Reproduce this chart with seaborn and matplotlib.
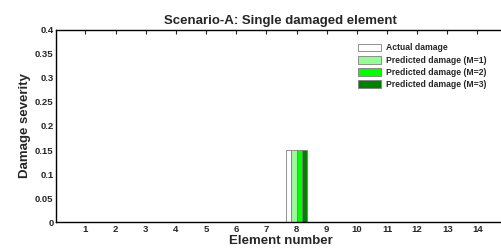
import numpy as np
import pandas as pd
import matplotlib
matplotlib.use("Agg")
import matplotlib.pyplot as plt
import seaborn as sns

# data
elements = [1, 2, 3, 4, 5, 6, 7, 8, 9, 10, 11, 12, 13, 14]
actual = [0, 0, 0, 0, 0, 0, 0, 0.15, 0, 0, 0, 0, 0, 0]
pred_m1 = [0, 0.001, 0, 0.001, 0.001, 0, 0.001, 0.15, 0.001, 0, 0, 0.001, 0, 0]
pred_m2 = [0.001, 0.001, 0.001, 0.001, 0.001, 0.001, 0.001, 0.15, 0.001, 0.001, 0.001, 0.001, 0.001, 0.001]
pred_m3 = [0.001, 0.001, 0, 0.001, 0.001, 0, 0.001, 0.15, 0.001, 0.001, 0, 0.001, 0.001, 0.001]
series = ["Actual damage", "Predicted damage (M=1)", "Predicted damage (M=2)", "Predicted damage (M=3)"]
colors = ["#ffffff", "#98fb98", "#00ff00", "#007f00"]

df = pd.DataFrame({
    "element": elements * 4,
    "severity": actual + pred_m1 + pred_m2 + pred_m3,
    "series": np.repeat(series, len(elements)),
})

sns.set_style("white")
plt.rcParams["font.family"] = ["Liberation Sans", "DejaVu Sans"]
plt.rcParams["font.weight"] = "bold"

fig = plt.figure(figsize=(5.02, 2.49), dpi=100)
ax = fig.add_axes([0.112, 0.108, 0.895, 0.772])

sns.barplot(data=df, x="element", y="severity", hue="series", palette=colors,
            saturation=1, width=0.72, edgecolor="#808080", linewidth=0.6,
            ax=ax, legend=True)

ax.set_xlim(-0.97, 13.93)
ax.set_ylim(0, 0.4)
ax.set_yticks(np.arange(0, 0.41, 0.05))
ax.set_yticklabels(["0", "0.05", "0.1", "0.15", "0.2", "0.25", "0.3", "0.35", "0.4"],
                   fontweight="bold")
ax.set_xticks(range(len(elements)))
ax.set_xticklabels([str(e) for e in elements], fontweight="bold")
ax.tick_params(direction="in", top=True, right=True, length=3, width=0.8,
               labelsize=6.8, pad=2)
for s in ax.spines.values():
    s.set_linewidth(1.0)
    s.set_color("black")

ax.set_title("Scenario-A: Single damaged element", fontsize=9.5, fontweight="bold", pad=4)
ax.set_xlabel("Element number", fontsize=9.5, fontweight="bold", labelpad=1)
ax.set_ylabel("Damage severity", fontsize=9.5, fontweight="bold", labelpad=3)

leg = ax.legend(loc="upper right", bbox_to_anchor=(0.958, 0.93), frameon=False,
                prop={"size": 6.2, "weight": "bold"}, handlelength=2.7, handleheight=1.0,
                labelspacing=0.38, handletextpad=0.6, borderaxespad=0, borderpad=0)

fig.savefig("out.png", dpi=100)
